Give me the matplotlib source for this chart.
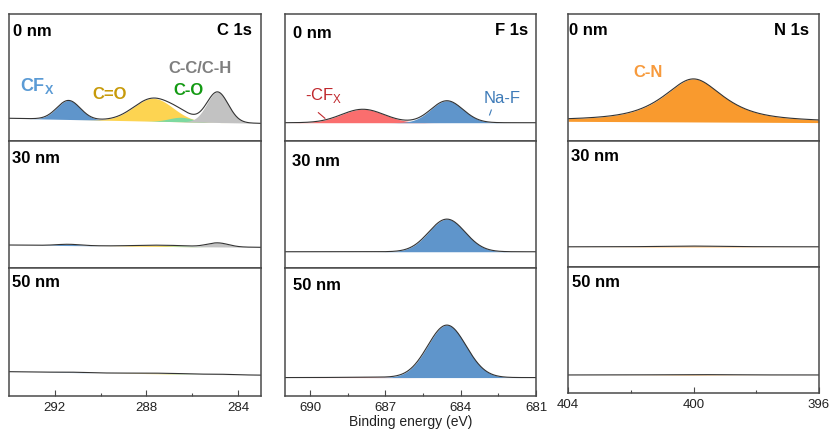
import numpy as np
import matplotlib
matplotlib.use("Agg")
import matplotlib.pyplot as plt
from matplotlib.ticker import FixedLocator

plt.rcParams['font.family'] = ['Liberation Sans', 'DejaVu Sans']
plt.rcParams['mathtext.fontset'] = 'custom'
plt.rcParams['mathtext.rm'] = 'Liberation Sans'
plt.rcParams['mathtext.bf'] = 'Liberation Sans:bold'

# ---------------- data ----------------
depths = ['0 nm', '30 nm', '50 nm']

# C 1s components: CFx, C=O, C-O, C-C/C-H
c1s_range = (294.0, 283.0)
c1s_center = [291.4, 287.7, 286.5, 284.9]
c1s_fwhm = [1.2, 2.0, 1.2, 1.1]
c1s_height = [[15.0, 18.0, 3.5, 24.0],
              [1.0, 0.9, 0.4, 3.2],
              [0.3, 0.4, 0.2, 0.3]]
c1s_bg_left = [17.9, 18.1, 19.0]
c1s_bg_right = [13.9, 16.3, 16.3]
c1s_fill = ['#5F95CB', '#FDD451', '#7DD9A0', '#C2C2C2']

# F 1s components: -CFx, Na-F
f1s_range = (691.0, 681.0)
f1s_center = [687.9, 684.55]
f1s_fwhm = [[2.0, 1.5], [2.0, 1.7], [2.0, 1.8]]
f1s_height = [[10.6, 17.3],
              [0.0, 25.7],
              [0.4, 41.0]]
f1s_bg = [14.4, 12.8, 14.4]
f1s_fill = ['#FA6E6E', '#5F95CB']

# N 1s component: C-N
n1s_range = (404.0, 396.0)
n1s_center = 400.0
n1s_fwhm = 2.3
n1s_eta = 0.8
n1s_height = [33.9, 0.6, 0.3]
n1s_bg_left = [15.5, 16.0, 14.3]
n1s_bg_right = [14.5, 16.0, 14.3]
n1s_fill = '#F99A2E'

# ---------------- helpers ----------------
def gauss(x, c, fwhm):
    return np.exp(-4 * np.log(2) * ((x - c) / fwhm) ** 2)

def pvoigt(x, c, fwhm, eta):
    lor = 1.0 / (1.0 + (2 * (x - c) / fwhm) ** 2)
    return eta * lor + (1 - eta) * gauss(x, c, fwhm)

def linear_bg(x, left, right, xr):
    return left + (right - left) * (x - xr[0]) / (xr[1] - xr[0])

W, H = 832, 432
fig = plt.figure(figsize=(W / 100, H / 100), dpi=100)

col_x = [(9, 261), (285, 536), (568, 819)]
row_y = [[(14, 141), (141, 268), (268, 396)],
         [(14, 141), (141, 268), (268, 396)],
         [(14, 141), (141, 267), (267, 393)]]

spine_col = '#4A4A4A'
env_col = '#333333'

def make_ax(c, r):
    x0, x1 = col_x[c]
    y0, y1 = row_y[c][r]
    ax = fig.add_axes([x0 / W, 1 - y1 / H, (x1 - x0) / W, (y1 - y0) / H])
    ax.set_ylim(0, 100)
    ax.set_yticks([])
    for s in ax.spines.values():
        s.set_color(spine_col)
        s.set_linewidth(1.1)
    return ax

def style_x(ax, xr, majors, minors, bottom):
    ax.set_xlim(*xr)
    ax.xaxis.set_major_locator(FixedLocator(majors))
    ax.xaxis.set_minor_locator(FixedLocator(minors))
    ax.tick_params(axis='x', which='both', direction='in', color=spine_col,
                   labelsize=9.5, pad=4, top=False, labelcolor='#222222')
    ax.tick_params(axis='x', which='major', length=4, width=0.8)
    ax.tick_params(axis='x', which='minor', length=2, width=0.8)
    if not bottom:
        ax.tick_params(axis='x', which='both', length=0, labelbottom=False)

label_pos = {
    0: [(0.016, 0.864), (0.011, 0.860), (0.013, 0.890)],
    1: [(0.031, 0.843), (0.027, 0.835), (0.031, 0.867)],
    2: [(0.005, 0.870), (0.011, 0.875), (0.015, 0.880)],
}
titles = ['C 1s', 'F 1s', 'N 1s']
title_pos = [(0.963, 0.870), (0.969, 0.874), (0.961, 0.874)]

# ---------------- C 1s ----------------
x_c = np.linspace(c1s_range[0], c1s_range[1], 600)
for r in range(3):
    ax = make_ax(0, r)
    bg = linear_bg(x_c, c1s_bg_left[r], c1s_bg_right[r], c1s_range)
    total = np.zeros_like(x_c)
    for k in range(4):
        comp = c1s_height[r][k] * gauss(x_c, c1s_center[k], c1s_fwhm[k])
        total += comp
        ax.fill_between(x_c, bg, bg + comp, color=c1s_fill[k], lw=0)
    ax.plot(x_c, bg + total, color=env_col, lw=0.8)
    style_x(ax, c1s_range, [292, 288, 284], [290, 286], r == 2)
    ax.text(*label_pos[0][r], depths[r], transform=ax.transAxes, fontsize=12,
            fontweight='bold', ha='left', va='center')
    if r == 0:
        ax.text(*title_pos[0], titles[0], transform=ax.transAxes, fontsize=12,
                fontweight='bold', ha='right', va='center')
        ax.text(292.77, 39.5, r'CF$_\mathbf{X}$', fontsize=13, fontweight='bold',
                color='#5B9BD5', ha='center', va='baseline')
        ax.text(289.6, 32.8, 'C=O', fontsize=12, fontweight='bold',
                color='#C79A0A', ha='center', va='baseline')
        ax.text(285.68, 53.3, 'C-C/C-H', fontsize=12, fontweight='bold',
                color='#7F7F7F', ha='center', va='baseline')
        ax.text(286.16, 36.2, 'C-O', fontsize=12, fontweight='bold',
                color='#139A13', ha='center', va='baseline')

# ---------------- F 1s ----------------
x_f = np.linspace(f1s_range[0], f1s_range[1], 600)
for r in range(3):
    ax = make_ax(1, r)
    bg = np.full_like(x_f, f1s_bg[r])
    total = np.zeros_like(x_f)
    for k in range(2):
        comp = f1s_height[r][k] * gauss(x_f, f1s_center[k], f1s_fwhm[r][k])
        total += comp
        ax.fill_between(x_f, bg, bg + comp, color=f1s_fill[k], lw=0)
    ax.plot(x_f, bg + total, color=env_col, lw=0.8)
    style_x(ax, f1s_range, [690, 687, 684, 681], [688.5, 685.5, 682.5], r == 2)
    ax.text(*label_pos[1][r], depths[r], transform=ax.transAxes, fontsize=12,
            fontweight='bold', ha='left', va='center')
    if r == 0:
        ax.text(*title_pos[1], titles[1], transform=ax.transAxes, fontsize=12,
                fontweight='bold', ha='right', va='center')
        ax.text(689.45, 32.3, r'-CF$_\mathrm{X}$', fontsize=12,
                color='#C0282D', ha='center', va='baseline')
        ax.plot([689.67, 689.41], [22.3, 17.9], color='#C0282D', lw=0.8)
        ax.text(682.36, 29.7, 'Na-F', fontsize=12,
                color='#3E7BB8', ha='center', va='baseline')
        ax.plot([682.78, 682.85], [24.4, 20.5], color='#3E7BB8', lw=0.8)
    if r == 2:
        ax.set_xlabel('Binding energy (eV)', fontsize=10, labelpad=1,
                      color='#222222')

# ---------------- N 1s ----------------
x_n = np.linspace(n1s_range[0], n1s_range[1], 600)
for r in range(3):
    ax = make_ax(2, r)
    bg = linear_bg(x_n, n1s_bg_left[r], n1s_bg_right[r], n1s_range)
    comp = n1s_height[r] * pvoigt(x_n, n1s_center, n1s_fwhm, n1s_eta)
    ax.fill_between(x_n, bg, bg + comp, color=n1s_fill, lw=0)
    ax.plot(x_n, bg + comp, color=env_col, lw=0.8)
    style_x(ax, n1s_range, [404, 400, 396], [402, 398], r == 2)
    ax.text(*label_pos[2][r], depths[r], transform=ax.transAxes, fontsize=12,
            fontweight='bold', ha='left', va='center')
    if r == 0:
        ax.text(*title_pos[2], titles[2], transform=ax.transAxes, fontsize=12,
                fontweight='bold', ha='right', va='center')
        ax.text(401.44, 50.2, 'C-N', fontsize=12, fontweight='bold',
                color='#F79A3C', ha='center', va='baseline')

fig.savefig('out.png', dpi=100)
